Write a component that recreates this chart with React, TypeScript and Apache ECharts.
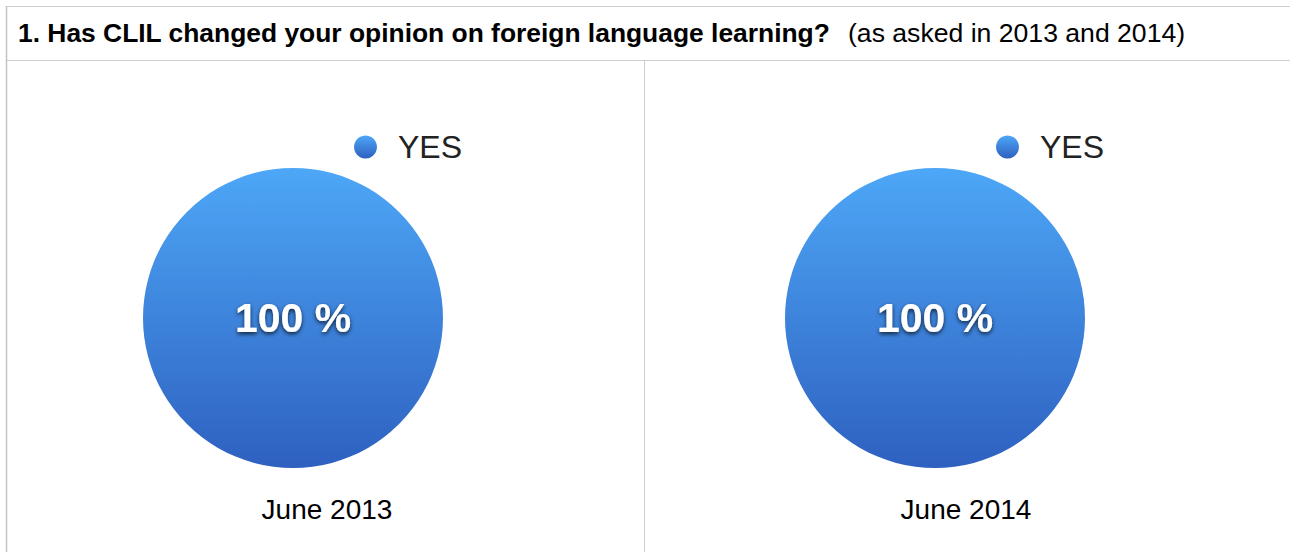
import React, { useEffect, useRef } from "react";
import * as echarts from "echarts";

const titleBold = "1. Has CLIL changed your opinion on foreign language learning?";
const titleNote = "(as asked in 2013 and 2014)";
const categories = ["YES"];
const periods = ["June 2013", "June 2014"];
const yes2013 = [100];
const yes2014 = [100];
const seriesValues = [yes2013, yes2014];

const FONT = "'Liberation Sans', Arial, Helvetica, sans-serif";

export default function App() {
  const ref = useRef<HTMLDivElement>(null);
  useEffect(() => {
    if (!ref.current) return;
    const chart = echarts.init(ref.current, undefined, { renderer: "svg" });
    const pieCentersX = [293, 935];
    const cellCentersX = [327, 966];
    const lineStyle = { stroke: "#cfcfcf", lineWidth: 1 };
    const grad = () =>
      new echarts.graphic.LinearGradient(0, 0, 0, 1, [
        { offset: 0, color: "#4DA7F7" },
        { offset: 1, color: "#2E60C0" },
      ]);
    const option: any = {
      animation: false,
      backgroundColor: "#ffffff",
      legend: periods.map((_, i) => ({
        data: categories,
        left: pieCentersX[i] + 56,
        top: 126,
        orient: "horizontal",
        icon: "circle",
        itemWidth: 23,
        itemHeight: 23,
        selectedMode: false,
        textStyle: {
          fontFamily: FONT,
          fontSize: 32,
          color: "#222",
          padding: [0, 0, 0, 16],
        },
      })),
      series: periods.map((p, i) => ({
        type: "pie",
        name: p,
        center: [pieCentersX[i], 318],
        radius: 150,
        legendIndex: i,
        emphasis: { disabled: true },
        itemStyle: { color: grad() },
        label: {
          show: true,
          position: "center",
          formatter: "{d} %",
          fontFamily: FONT,
          fontSize: 41,
          fontWeight: "bold",
          color: "#ffffff",
          textShadowColor: "rgba(0,0,0,0.75)",
          textShadowBlur: 4,
          textShadowOffsetY: 2,
        },
        labelLine: { show: false },
        data: categories.map((c, k) => ({ name: c, value: seriesValues[i][k] })),
      })),
      graphic: [
        { type: "line", shape: { x1: 6, y1: 6.5, x2: 1290, y2: 6.5 }, style: lineStyle },
        { type: "line", shape: { x1: 6, y1: 60.5, x2: 1290, y2: 60.5 }, style: lineStyle },
        { type: "line", shape: { x1: 6.5, y1: 6, x2: 6.5, y2: 552 }, style: { stroke: "#c4c4c4", lineWidth: 1.5 } },
        { type: "line", shape: { x1: 644.5, y1: 60, x2: 644.5, y2: 552 }, style: lineStyle },
        {
          type: "text",
          x: 18,
          y: 33,
          style: {
            text: titleBold,
            font: `bold 26.4px ${FONT}`,
            fill: "#000",
            verticalAlign: "middle",
          },
        },
        {
          type: "text",
          x: 848,
          y: 33,
          style: {
            text: titleNote,
            font: `26.6px ${FONT}`,
            fill: "#000",
            verticalAlign: "middle",
          },
        },
        ...periods.map((p, i) => ({
          type: "text",
          x: cellCentersX[i],
          y: 509,
          style: {
            text: p,
            font: `28px ${FONT}`,
            fill: "#000",
            align: "center",
            verticalAlign: "middle",
          },
        })),
      ],
    };
    chart.setOption(option);
    return () => chart.dispose();
  }, []);
  return (
    <div
      ref={ref}
      style={{ position: "fixed", left: 0, top: 0, width: 1290, height: 552 }}
    />
  );
}
